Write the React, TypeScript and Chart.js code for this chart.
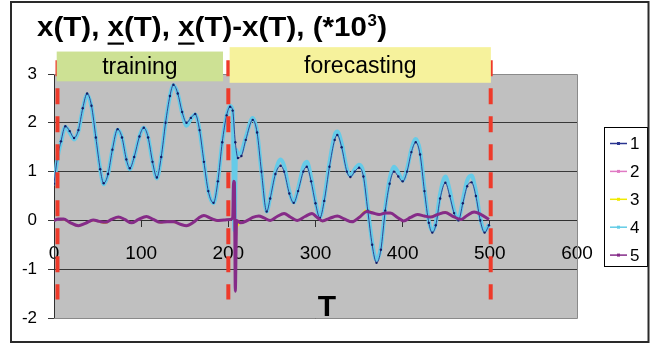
import React, { useEffect, useRef } from "react";
import { Chart, registerables } from "chart.js";

Chart.register(...registerables);

// ---- data ----
const seriesNames = ["1", "2", "3", "4", "5"];

// series 1: x(T) (navy)
const t1 = [0, 4, 8, 13, 18, 23, 28, 33, 38, 43, 48, 53, 57, 62, 67, 73, 78, 83, 87, 92, 98, 103, 108, 113, 118, 123, 128, 133, 137, 142, 147, 152, 157, 162, 167, 172, 177, 183, 188, 193, 198, 202, 205, 208, 211, 215, 220, 228, 233, 238, 244, 248, 254, 260, 264, 270, 275, 280, 286, 290, 295, 300, 305, 310, 316, 322, 325, 330, 336, 340, 345, 350, 355, 360, 365, 370, 375, 380, 385, 390, 395, 400, 405, 410, 415, 420, 425, 430, 434, 438, 443, 449, 454, 459, 464, 469, 474, 479, 484, 489, 494, 499];
const v1 = [0.75, 1.3, 1.62, 1.93, 1.83, 1.69, 1.85, 2.3, 2.6, 2.35, 1.7, 1.05, 0.76, 0.95, 1.45, 1.87, 1.7, 1.25, 1.07, 1.3, 1.72, 1.9, 1.7, 1.2, 0.88, 1.3, 2.0, 2.55, 2.78, 2.6, 2.22, 2.0, 2.1, 2.18, 1.85, 1.2, 0.6, 0.36, 0.8, 1.6, 2.15, 2.33, 2.25, 1.6, 1.28, 1.32, 1.65, 2.06, 1.8, 1.0, 0.18, 0.45, 0.95, 1.12, 1.0, 0.55, 0.36, 0.6, 1.0, 1.1, 0.8, 0.35, 0.05, 0.4, 1.1, 1.65, 1.75, 1.5, 1.0, 0.89, 1.0, 1.08, 0.9, 0.2, -0.5, -0.87, -0.6, 0.2, 0.75, 1.0, 0.9, 0.8, 1.0, 1.4, 1.6, 1.35, 0.6, -0.05, -0.25, -0.1, 0.45, 0.77, 0.5, 0.15, 0.0, 0.35, 0.7, 0.78, 0.5, 0.0, -0.25, -0.1];

// series 4: forecast (cyan)
const t4 = [0, 4, 8, 13, 18, 23, 28, 33, 38, 43, 48, 53, 57, 62, 67, 73, 78, 83, 87, 92, 98, 103, 108, 113, 118, 123, 128, 133, 137, 142, 147, 152, 157, 162, 167, 172, 177, 183, 188, 193, 198, 202, 205, 207, 209, 211, 215, 220, 228, 233, 238, 244, 248, 254, 260, 264, 270, 275, 280, 286, 290, 295, 300, 305, 310, 316, 322, 325, 330, 336, 340, 345, 350, 355, 360, 365, 370, 375, 380, 385, 390, 395, 400, 405, 410, 415, 420, 425, 430, 434, 438, 443, 449, 454, 459, 464, 469, 474, 479, 484, 489, 494, 499];
const v4 = [0.72, 1.28, 1.6, 1.92, 1.8, 1.66, 1.83, 2.28, 2.58, 2.33, 1.7, 1.05, 0.74, 0.95, 1.45, 1.86, 1.7, 1.25, 1.05, 1.3, 1.72, 1.9, 1.7, 1.2, 0.86, 1.3, 2.0, 2.55, 2.77, 2.6, 2.2, 1.94, 2.08, 2.17, 1.85, 1.2, 0.6, 0.35, 0.8, 1.6, 2.15, 2.35, 2.25, -0.2, 1.45, 1.35, 1.4, 1.7, 2.1, 1.82, 1.0, 0.18, 0.47, 1.0, 1.25, 1.12, 0.6, 0.37, 0.65, 1.1, 1.2, 0.88, 0.38, 0.06, 0.45, 1.18, 1.75, 1.82, 1.58, 1.05, 0.92, 1.05, 1.14, 0.98, 0.25, -0.45, -0.82, -0.55, 0.25, 0.85, 1.1, 0.98, 0.82, 1.05, 1.45, 1.67, 1.42, 0.65, -0.02, -0.22, -0.05, 0.55, 0.9, 0.62, 0.2, 0.02, 0.42, 0.82, 0.92, 0.6, 0.05, -0.22, -0.08];

// series 2, 3, 5: differences (pink, yellow, purple)
const tDiff = [0, 5, 11, 18, 28, 36, 45, 52, 59, 66, 74, 81, 89, 97, 106, 114, 122, 130, 137, 145, 152, 160, 166, 172, 180, 187, 195, 202, 205, 206, 207, 208, 209.5, 214, 222, 228, 235, 241, 248, 256, 264, 271, 279, 288, 296, 302, 308, 316, 325, 333, 342, 350, 359, 366, 373, 380, 386, 394, 401, 409, 417, 425, 432, 440, 449, 457, 467, 474, 482, 490, 499];
const v2 = [0.0, 0.02, 0.02, -0.05, -0.1, -0.06, 0.0, -0.02, -0.05, 0.02, 0.06, 0.02, -0.05, 0.01, 0.07, 0.02, -0.04, -0.03, -0.03, -0.08, -0.1, -0.04, 0.05, 0.09, 0.04, 0.0, 0.01, 0.02, 0.05, 0.8, 0.8, -1.1, 0.0, -0.04, 0.0, 0.06, 0.08, 0.05, 0.0, 0.08, 0.13, 0.07, 0.0, 0.08, 0.13, 0.06, -0.01, 0.04, 0.08, 0.03, -0.03, 0.06, 0.19, 0.15, 0.12, 0.14, 0.14, 0.06, -0.01, 0.06, 0.12, 0.09, 0.07, 0.12, 0.16, 0.09, 0.02, 0.1, 0.16, 0.12, 0.02];
const v3 = [0.0, 0.03, 0.02, -0.05, -0.12, -0.06, 0.0, -0.03, -0.06, 0.02, 0.06, 0.02, -0.06, 0.02, 0.07, 0.02, -0.05, -0.03, -0.04, -0.08, -0.12, -0.04, 0.05, 0.1, 0.04, -0.01, 0.01, 0.02, 0.03, 0.65, 0.6, -1.35, -0.19, -0.05, 0.0, 0.06, 0.09, 0.05, 0.0, 0.08, 0.14, 0.07, 0.0, 0.08, 0.14, 0.06, -0.02, 0.04, 0.09, 0.03, -0.03, 0.07, 0.22, 0.16, 0.12, 0.15, 0.15, 0.06, -0.01, 0.06, 0.12, 0.09, 0.08, 0.12, 0.17, 0.09, 0.02, 0.1, 0.17, 0.12, 0.02];
const v5 = [0.0, 0.03, 0.03, -0.04, -0.11, -0.06, 0.01, -0.02, -0.04, 0.02, 0.07, 0.02, -0.05, 0.02, 0.08, 0.02, -0.04, -0.03, -0.03, -0.08, -0.11, -0.04, 0.05, 0.1, 0.04, 0.0, 0.01, 0.02, 0.05, 0.8, 0.78, -1.45, 0.0, -0.05, 0.0, 0.06, 0.09, 0.05, 0.0, 0.08, 0.14, 0.07, 0.0, 0.08, 0.14, 0.06, -0.01, 0.04, 0.09, 0.03, -0.03, 0.06, 0.18, 0.15, 0.12, 0.15, 0.15, 0.06, -0.01, 0.06, 0.12, 0.09, 0.07, 0.12, 0.16, 0.09, 0.02, 0.1, 0.17, 0.12, 0.02];

const xMin = 0, xMax = 600, xStep = 100;
const yMin = -2, yMax = 3, yStep = 1;
const boundaryT = [4, 200, 501];
const phaseLabels = ["training", "forecasting"];
const axisLabel = "T";

// ---- styles ----
const FONT = '"Liberation Sans", Arial, sans-serif';
const colors = ["#2a3688", "#e07ac4", "#f2ea00", "#66cbe8", "#852b88"];
const legendColors = ["#2a3590", "#e07ac4", "#f0ea00", "#62cce6", "#852b88"];

const pts = (t: number[], v: number[]) => t.map((x, i) => ({ x, y: v[i] }));

const decoPlugin = {
  id: "deco",
  beforeDraw(chart: any) {
    const { ctx, chartArea: a } = chart;
    ctx.save();
    ctx.fillStyle = "#ffffff";
    ctx.fillRect(0, 0, chart.width, chart.height);
    ctx.fillStyle = "#c0c0c0";
    ctx.fillRect(a.left, a.top, a.right - a.left, a.bottom - a.top);
    ctx.restore();
  },
  afterDatasetsDraw(chart: any) {
    const { ctx, chartArea: a, scales } = chart;
    const xs = scales.x, ys = scales.y;
    ctx.save();
    // plot border (top/right/bottom)
    ctx.strokeStyle = "#8a8a8a";
    ctx.lineWidth = 1;
    ctx.beginPath();
    ctx.moveTo(a.left, Math.round(a.top) + 0.5);
    ctx.lineTo(Math.round(a.right) + 0.5, Math.round(a.top) + 0.5);
    ctx.lineTo(Math.round(a.right) + 0.5, Math.round(a.bottom) + 0.5);
    ctx.lineTo(a.left, Math.round(a.bottom) + 0.5);
    ctx.stroke();

    // red dashed boundaries
    ctx.strokeStyle = "#ee3a2a";
    ctx.lineWidth = 4;
    ctx.setLineDash([16, 12]);
    const yTop = ys.getPixelForValue(3.28);
    const yBot = ys.getPixelForValue(-1.62);
    boundaryT.forEach((t) => {
      const px = xs.getPixelForValue(t);
      ctx.beginPath();
      ctx.moveTo(px, yTop);
      ctx.lineTo(px, yBot);
      ctx.stroke();
    });
    ctx.setLineDash([]);

    // phase boxes
    const boxes = [
      { l: 3.1, r: 193.9, t: 3.46, b: 2.85, fill: "#cde194", label: phaseLabels[0] },
      { l: 201.5, r: 501.2, t: 3.55, b: 2.82, fill: "#f6f29c", label: phaseLabels[1] },
    ];
    boxes.forEach((bx) => {
      const x0 = xs.getPixelForValue(bx.l), x1 = xs.getPixelForValue(bx.r);
      const y0 = ys.getPixelForValue(bx.t), y1 = ys.getPixelForValue(bx.b);
      ctx.fillStyle = bx.fill;
      ctx.fillRect(x0, y0, x1 - x0, y1 - y0);
      ctx.fillStyle = "#000";
      ctx.font = `23px ${FONT}`;
      ctx.textAlign = "center";
      ctx.textBaseline = "alphabetic";
      ctx.fillText(bx.label, (x0 + x1) / 2, (y0 + y1) / 2 + 8);
    });

    // axis label T
    ctx.font = `bold 30px ${FONT}`;
    ctx.textAlign = "center";
    ctx.textBaseline = "alphabetic";
    ctx.fillStyle = "#000";
    ctx.fillText(axisLabel, 327, 316);
    ctx.restore();
  },
  afterDraw(chart: any) {
    const { ctx } = chart;
    ctx.save();
    // title with underlined x and superscript
    const big = `bold 28px ${FONT}`;
    const small = `bold 16px ${FONT}`;
    const parts: { t: string; u?: boolean }[] = [
      { t: "x(T), " },
      { t: "x", u: true },
      { t: "(T), " },
      { t: "x", u: true },
      { t: "(T)-x(T), (*10" },
    ];
    const base = 36;
    ctx.translate(37, 0);
    ctx.scale(1.055, 1);
    let x = 0;
    ctx.fillStyle = "#000";
    ctx.textAlign = "left";
    ctx.textBaseline = "alphabetic";
    ctx.font = big;
    parts.forEach((p) => {
      const w = ctx.measureText(p.t).width;
      ctx.fillText(p.t, x, base);
      if (p.u) ctx.fillRect(x, base + 6.5, w, 2.2);
      x += w;
    });
    ctx.font = small;
    ctx.fillText("3", x + 0.5, base - 10);
    x += ctx.measureText("3").width + 1;
    ctx.font = big;
    ctx.fillText(")", x, base);
    ctx.setTransform(1, 0, 0, 1, 0, 0);

    // legend
    const lx0 = 604.5, ly0 = 127.5, lw = 43, lh = 139;
    ctx.fillStyle = "#fff";
    ctx.fillRect(lx0, ly0, lw, lh);
    ctx.strokeStyle = "#000";
    ctx.lineWidth = 1;
    ctx.strokeRect(lx0, ly0, lw, lh);
    ctx.font = `17px ${FONT}`;
    ctx.textBaseline = "middle";
    ctx.textAlign = "left";
    seriesNames.forEach((name, i) => {
      const y = 143.5 + i * 27.9;
      ctx.strokeStyle = legendColors[i];
      ctx.lineWidth = 1.5;
      ctx.beginPath();
      ctx.moveTo(610, y);
      ctx.lineTo(627, y);
      ctx.stroke();
      ctx.fillStyle = legendColors[i];
      ctx.fillRect(617, y - 1.5, 3, 3);
      ctx.fillStyle = "#000";
      ctx.fillText(name, 630, y + 1);
    });

    // outer frame
    ctx.strokeStyle = "#2a2a2a";
    ctx.lineWidth = 2;
    ctx.strokeRect(11, 2, 637.5, 340);
    ctx.restore();
  },
};

export default function App() {
  const ref = useRef<HTMLCanvasElement | null>(null);
  useEffect(() => {
    if (!ref.current) return;
    const chart = new Chart(ref.current, {
      type: "line",
      data: {
        datasets: [
          {
            label: seriesNames[0], data: pts(t1, v1), borderColor: colors[0], borderWidth: 0.9,
            pointRadius: 1.2, pointBackgroundColor: "#141c66", pointBorderWidth: 0, order: 1,
            cubicInterpolationMode: "monotone",
          },
          {
            label: seriesNames[1], data: pts(tDiff, v2), borderColor: colors[1], borderWidth: 2,
            pointRadius: 0, order: 4, cubicInterpolationMode: "monotone",
          },
          {
            label: seriesNames[2], data: pts(tDiff, v3), borderColor: colors[2], borderWidth: 1.5,
            pointRadius: 0, order: 3, cubicInterpolationMode: "monotone",
          },
          {
            label: seriesNames[3], data: pts(t4, v4), borderColor: colors[3], borderWidth: 4,
            pointRadius: 0, order: 2, cubicInterpolationMode: "monotone",
          },
          {
            label: seriesNames[4], data: pts(tDiff, v5), borderColor: colors[4], borderWidth: 3,
            pointRadius: 0, order: 0, cubicInterpolationMode: "monotone",
          },
        ],
      },
      options: {
        responsive: false,
        animation: false,
        devicePixelRatio: 1,
        layout: { padding: { left: 0, right: 75, top: 74, bottom: 27 } },
        plugins: { legend: { display: false }, title: { display: false }, tooltip: { enabled: false } },
        scales: {
          x: {
            type: "linear",
            min: xMin,
            max: xMax,
            position: { y: 0 } as any,
            ticks: { stepSize: xStep, color: "#000", font: { family: FONT, size: 19 }, padding: 16, maxRotation: 0, autoSkip: false },
            grid: { drawOnChartArea: false, drawTicks: true, tickLength: 6, color: "#303030", tickColor: "#303030" },
            border: { display: true, color: "#303030", width: 1 },
            afterFit: (s: any) => { s.height = 0; },
          },
          y: {
            type: "linear",
            min: yMin,
            max: yMax,
            ticks: { stepSize: yStep, color: "#000", font: { family: FONT, size: 17 }, padding: 11 },
            grid: { color: "#383838", tickLength: 6, lineWidth: 1 },
            border: { display: true, color: "#303030", width: 1 },
            afterFit: (s: any) => { s.width = 54; },
          },
        },
      },
      plugins: [decoPlugin],
    } as any);
    return () => chart.destroy();
  }, []);
  return (
    <div style={{ position: "fixed", left: 0, top: 0, width: 652, height: 345, background: "#fff" }}>
      <canvas ref={ref} width={652} height={345} style={{ display: "block" }} />
    </div>
  );
}
